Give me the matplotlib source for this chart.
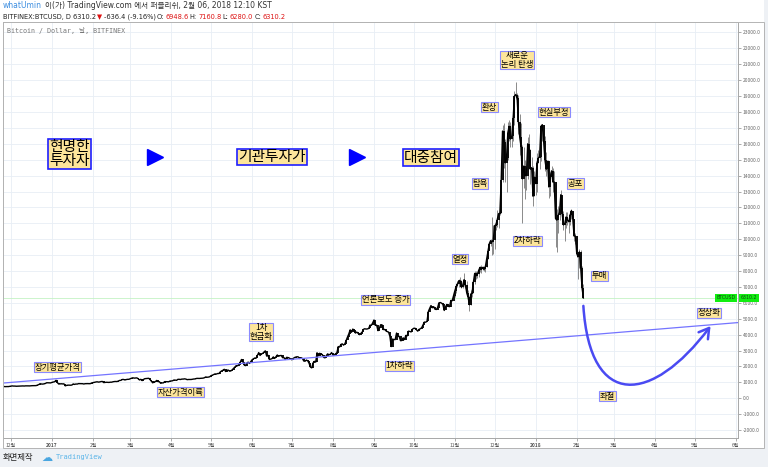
import datetime as dt
import matplotlib
matplotlib.use("Agg")
import matplotlib.pyplot as plt
import matplotlib.dates as mdates
import matplotlib.ticker
from matplotlib.patches import FancyArrowPatch, Rectangle
from matplotlib.path import Path
from matplotlib.transforms import blended_transform_factory

plt.rcParams['font.family'] = ['Noto Sans CJK KR', 'DejaVu Sans']

# DATA : BITFINEX BTCUSD daily closes, 2016-11-25 .. 2018-02-06
start_day = dt.date(2016, 11, 25)
c_1611 = [740, 735, 730, 735, 733, 745]
c_1612 = [755, 775, 765, 765, 755, 760, 765, 768, 770, 774,
          768, 778, 780, 778, 775, 783, 790, 790, 790, 795,
          830, 860, 915, 895, 890, 905, 930, 975, 970, 960, 965]
c_1701 = [1000, 1020, 1040, 1130, 990, 895, 900, 910, 900, 905,
          780, 810, 825, 820, 820, 830, 900, 870, 895, 890,
          920, 920, 920, 915, 895, 915, 920, 920, 915, 920, 965]
c_1702 = [985, 1010, 1020, 1035, 1015, 1025, 1050, 1055, 985, 995,
          1005, 1000, 995, 1010, 1010, 1035, 1050, 1055, 1050, 1080,
          1120, 1125, 1180, 1180, 1150, 1175, 1190, 1190]
c_1703 = [1225, 1260, 1285, 1265, 1275, 1280, 1230, 1150, 1190, 1110,
          1180, 1230, 1240, 1245, 1255, 1170, 1070, 970, 1025, 1045,
          1120, 1050, 1040, 940, 965, 965, 1045, 1045, 1040, 1035, 1080]
c_1704 = [1085, 1100, 1145, 1140, 1125, 1190, 1190, 1180, 1205, 1205,
          1220, 1205, 1170, 1180, 1180, 1180, 1195, 1210, 1215, 1245,
          1250, 1245, 1250, 1250, 1265, 1290, 1340, 1320, 1330, 1350]
c_1705 = [1420, 1450, 1490, 1530, 1520, 1555, 1555, 1660, 1720, 1760,
          1820, 1680, 1760, 1770, 1700, 1720, 1790, 1880, 1970, 2050,
          2040, 2120, 2260, 2440, 2300, 2100, 2050, 2200, 2270, 2190, 2300]
c_1706 = [2420, 2480, 2530, 2520, 2700, 2870, 2690, 2790, 2820, 2910,
          2980, 2650, 2700, 2440, 2460, 2490, 2600, 2500, 2610, 2720,
          2640, 2680, 2690, 2550, 2560, 2440, 2570, 2560, 2530, 2470]
c_1707 = [2420, 2500, 2560, 2590, 2610, 2590, 2500, 2550, 2500, 2340,
          2330, 2400, 2350, 2200, 1960, 1910, 2220, 2320, 2270, 2860,
          2670, 2830, 2750, 2750, 2570, 2540, 2680, 2790, 2730, 2770, 2870]
c_1708 = [2720, 2710, 2800, 2860, 3250, 3220, 3380, 3420, 3340, 3420,
          3640, 3850, 4050, 4300, 4150, 4350, 4270, 4100, 4160, 4080,
          4000, 4070, 4150, 4330, 4370, 4350, 4360, 4390, 4600, 4580, 4740]
c_1709 = [4920, 4580, 4600, 4250, 4390, 4620, 4620, 4320, 4330, 4240,
          4190, 4160, 3890, 3250, 3720, 3690, 3690, 4100, 3900, 3890,
          3620, 3630, 3800, 3690, 3950, 3920, 4220, 4200, 4170, 4340]
c_1710 = [4400, 4400, 4310, 4220, 4330, 4370, 4440, 4610, 4790, 4780,
          4840, 5450, 5650, 5830, 5690, 5760, 5600, 5580, 5700, 6000,
          6020, 5980, 5900, 5520, 5750, 5900, 5780, 5760, 6150, 6130, 6450]
c_1711 = [6750, 7030, 7160, 7390, 7390, 6980, 7120, 7460, 7140, 6620,
          6350, 5880, 6540, 6630, 7290, 7850, 7700, 7790, 8040, 8230,
          8100, 8230, 8100, 8250, 8750, 9290, 9720, 9910, 9830, 9920]
c_1712 = [10850, 10900, 11230, 11600, 11650, 13700, 16800, 16100, 14800, 15100,
          16700, 17100, 16300, 16500, 17600, 19000, 19100, 18900, 17400, 16400,
          15800, 13800, 14600, 14000, 14000, 16000, 15600, 14400, 14500, 12700, 13900]
c_1801 = [13500, 14800, 15100, 15200, 17100, 17200, 16200, 15000, 14400, 14900,
          13300, 13900, 14300, 13600, 13600, 11300, 11200, 11500, 11700, 12800,
          11600, 10900, 11000, 11400, 11200, 11100, 11500, 11800, 11300, 10200, 10200]
c_1802 = [9100, 8900, 9200, 8200, 6950, 6310.2]

# daily high / low from 2017-11-01 on (the volatile part)
wick_start = dt.date(2017, 11, 1)
hi_1711 = [6800, 7220, 7400, 7500, 7600, 7450, 7250, 7880, 7450, 7350,
           6800, 6450, 6800, 6730, 7340, 7980, 8000, 7850, 8100, 8300,
           8400, 8300, 8300, 8320, 8800, 9450, 9750, 10000, 11400, 10900]
lo_1711 = [6370, 6600, 7020, 7000, 7050, 6950, 6940, 7050, 6950, 6500,
           6180, 5500, 5850, 6370, 6630, 7160, 7500, 7550, 7600, 7950,
           7900, 8090, 8010, 7970, 8250, 8760, 9300, 9600, 9000, 9100]
hi_1712 = [11000, 11150, 11850, 11650, 11900, 13900, 17200, 17300, 16300, 15700,
           17400, 17500, 17400, 16950, 17900, 19300, 19900, 19200, 19100, 17900,
           17300, 15900, 15800, 15000, 14500, 16400, 16600, 15700, 15200, 14600, 14300]
lo_1712 = [9400, 10600, 10800, 10700, 11500, 11650, 13600, 14500, 13600, 13000,
           15000, 16200, 15800, 15800, 16200, 17200, 18800, 18100, 16600, 15300,
           14700, 11000, 13200, 12500, 13100, 13800, 14900, 13500, 14000, 12100, 12700]
hi_1801 = [14100, 15400, 15600, 15400, 17200, 17250, 17200, 16500, 15500, 15000,
           14900, 14200, 14600, 14500, 14300, 13600, 11900, 12100, 11900, 13100,
           12800, 11800, 11300, 11700, 11700, 11600, 11700, 11900, 11800, 11300, 10400]
lo_1801 = [12800, 13000, 14800, 14400, 14900, 16200, 16000, 14300, 14000, 13300,
           12600, 12700, 13900, 13000, 13500, 9500, 9200, 10400, 11200, 11700,
           11500, 10600, 9900, 10700, 10900, 10400, 10900, 11300, 11100, 9900, 9700]
hi_1802 = [10200, 9100, 9400, 9300, 8300, 7160.8]
lo_1802 = [8900, 7500, 8200, 8000, 6600, 6280.0]

# long term average line (start, end)
trend_dates = [dt.date(2016, 11, 25), dt.date(2018, 6, 3)]
trend_prices = [955, 4760]

# forecast curve (bezier control points)
curve_dates = [dt.date(2018, 2, 6), dt.date(2018, 2, 11), dt.date(2018, 3, 30), dt.date(2018, 5, 13)]
curve_prices = [5810, -780, -340, 4540]

month_ticks = [dt.date(2016, 12, 1)] + [dt.date(2017, m, 1) for m in range(1, 13)] + \
              [dt.date(2018, m, 1) for m in range(1, 7)]
tick_labels = ["12월", "2017", "2월", "3월", "4월", "5월", "6월", "7월", "8월", "9월",
               "10월", "11월", "12월", "2018", "2월", "3월", "4월", "5월", "6월"]

# annotation boxes: text, date, price, big?
tags = [
    ("현명한\n투자자", dt.date(2017, 1, 14), 15360, True),
    ("기관투자가", dt.date(2017, 6, 16), 15170, True),
    ("대중참여", dt.date(2017, 10, 14), 15110, True),
    ("장기평균가격", dt.date(2017, 1, 5), 1960, False),
    ("자산가격이륙", dt.date(2017, 4, 8), 390, False),
    ("1차\n현금화", dt.date(2017, 6, 8), 4170, False),
    ("언론보도 증가", dt.date(2017, 9, 10), 6180, False),
    ("1차하락", dt.date(2017, 9, 20), 2030, False),
    ("열정", dt.date(2017, 11, 5), 8750, False),
    ("탐욕", dt.date(2017, 11, 20), 13500, False),
    ("환상", dt.date(2017, 11, 27), 18300, False),
    ("새로운\n논리 탄생", dt.date(2017, 12, 18), 21270, False),
    ("현실부정", dt.date(2018, 1, 15), 18000, False),
    ("공포", dt.date(2018, 1, 31), 13500, False),
    ("2차하락", dt.date(2017, 12, 26), 9890, False),
    ("투매", dt.date(2018, 2, 18), 7690, False),
    ("좌절", dt.date(2018, 2, 24), 140, False),
    ("정상화", dt.date(2018, 5, 12), 5370, False),
]
play_dates = [dt.date(2017, 3, 20), dt.date(2017, 8, 19)]
play_prices = [15170, 15170]

last_price = 6310.2

if __name__ == "__main__":
    closes = (c_1611 + c_1612 + c_1701 + c_1702 + c_1703 + c_1704 + c_1705 + c_1706 +
              c_1707 + c_1708 + c_1709 + c_1710 + c_1711 + c_1712 + c_1801 + c_1802)
    days = [start_day + dt.timedelta(days=i) for i in range(len(closes))]
    opens = [closes[0]] + closes[:-1]
    highs = hi_1711 + hi_1712 + hi_1801 + hi_1802
    lows = lo_1711 + lo_1712 + lo_1801 + lo_1802
    wdays = [wick_start + dt.timedelta(days=i) for i in range(len(highs))]

    W, H = 768, 467
    fig = plt.figure(figsize=[7.68, 4.67], dpi=100)
    fig.patch.set_facecolor("white")

    def fx(x): return x / W
    def fy(y): return 1 - y / H

    # grey strips and outer frame
    fig.add_artist(Rectangle((0, 0), 1, fy(448), transform=fig.transFigure, fc="#eef1f5", ec="none", zorder=0))
    fig.add_artist(Rectangle((fx(764), 0), 1, 1, transform=fig.transFigure, fc="#eef1f5", ec="none", zorder=0))
    fig.add_artist(Rectangle((fx(3), fy(448)), fx(761), fy(22) - fy(448), transform=fig.transFigure,
                             fill=False, ec="#b4b4b4", lw=0.7, zorder=1))

    ax = fig.add_axes([fx(3), fy(438), fx(735), fy(22) - fy(438)])
    ax.set_facecolor("white")

    ax.set_xlim(dt.date(2016, 11, 25), dt.datetime(2018, 6, 2, 17))
    ax.set_ylim(-2500, 23660)

    # grid
    ax.set_xticks(month_ticks)
    ax.set_xticklabels(tick_labels)
    ax.yaxis.set_major_locator(matplotlib.ticker.MultipleLocator(1000))
    ax.yaxis.set_major_formatter(matplotlib.ticker.FormatStrFormatter("%.1f"))
    ax.grid(True, color="#e8eef5", lw=0.6)
    ax.set_axisbelow(True)
    ax.yaxis.tick_right()
    ax.tick_params(axis="y", labelsize=3.5, labelcolor="#666666", color="#888888", length=2, width=0.5, pad=1.5)
    ax.tick_params(axis="x", labelsize=3.5, labelcolor="#555555", color="#888888", length=2.5, width=0.5, pad=0.8)
    for lab in ax.get_xticklabels():
        if lab.get_text().startswith("20"):
            lab.set_fontweight("bold")
    for s in ax.spines.values():
        s.set_color("#a8a8a8")
        s.set_linewidth(0.7)

    # price candles
    ax.vlines(wdays, lows, highs, color="#8a8a8a", lw=0.7, zorder=2)
    ax.vlines(days, opens, closes, color="black", lw=1.3, zorder=3)
    ax.plot(days, closes, color="black", lw=1.0, zorder=3)

    # last price line + labels
    ax.axhline(last_price, color="#c4f2c4", lw=0.6, zorder=1)
    trans = blended_transform_factory(ax.transAxes, ax.transData)
    ax.text(0.997, last_price, "BTCUSD", transform=trans, ha="right", va="center", fontsize=3.4,
            family="DejaVu Sans", color="#114411",
            bbox=dict(boxstyle="square,pad=0.35", fc="#11ee11", ec="none"), zorder=6)
    ax.text(1.004, last_price, "6310.2", transform=trans, ha="left", va="center", fontsize=3.4,
            family="DejaVu Sans", color="#114411", clip_on=False,
            bbox=dict(boxstyle="square,pad=0.35", fc="#11ee11", ec="none"), zorder=6)

    # long term average line
    ax.plot(trend_dates, trend_prices, color="#7474ff", lw=0.9, zorder=4)

    # forecast curve
    cx = mdates.date2num(curve_dates)
    verts = list(zip(cx, curve_prices))
    path = Path(verts, [Path.MOVETO, Path.CURVE4, Path.CURVE4, Path.CURVE4])
    arr = FancyArrowPatch(path=path, arrowstyle="->,head_length=0.5,head_width=0.3", mutation_scale=14,
                          color="#4a4af2", lw=1.8, zorder=4)
    ax.add_patch(arr)

    # play arrows
    ax.plot(play_dates, play_prices, ls="none", marker=">", ms=12, color="#0000ff", zorder=5)

    # annotation boxes
    for txt, d, p, big in tags:
        if big:
            ax.text(d, p, txt, ha="center", va="center", fontsize=10.6, linespacing=0.92, zorder=6,
                    bbox=dict(boxstyle="square,pad=0.1", fc="#fde59a", ec="#1f1fff", lw=1.2))
        else:
            ax.text(d, p, txt, ha="center", va="center", fontsize=6.0, linespacing=0.92, zorder=6,
                    bbox=dict(boxstyle="square,pad=0.08", fc="#fde59a", ec="#8a8aff", lw=0.8))

    # header / footer text
    rend = fig.canvas.get_renderer()

    def line(x, y, parts, fs, fam, gap=1.5):
        for t, c in parts:
            tx = fig.text(fx(x), fy(y), t, fontsize=fs, color=c, va="center", family=fam)
            x += tx.get_window_extent(renderer=rend).width + gap

    hfam = ["DejaVu Sans", "Noto Sans CJK KR"]
    line(3, 6, [("whatUmin", "#3d8ee0"),
                ("이(가) TradingView.com 에서 퍼블리쉬, 2월 06, 2018 12:10 KST", "#333333")], 5.5, hfam, gap=3)
    line(3, 17, [("BITFINEX:BTCUSD, D 6310.2", "#222222"), ("▼", "#dd1111"),
                 ("-636.4 (-9.16%)", "#222222"), ("O:", "#222222"), ("6948.6", "#dd1111"),
                 ("H:", "#222222"), ("7160.8", "#dd1111"), ("L:", "#222222"),
                 ("6280.0", "#dd1111"), ("C:", "#222222"), ("6310.2", "#dd1111")], 4.8, hfam, gap=1.2)
    fig.text(fx(7), fy(31), "Bitcoin / Dollar, 날, BITFINEX", fontsize=4.8, color="#777777", va="center",
             family=["DejaVu Sans Mono", "Noto Sans CJK KR"])

    fig.text(fx(3), fy(457.5), "화면제작", fontsize=6, color="#222222", va="center")
    fig.text(fx(41), fy(457.5), "☁", fontsize=8, color="#4aa6e0", va="center", family="DejaVu Sans")
    fig.text(fx(56), fy(457.5), "TradingView", fontsize=5, color="#5ab4e8", va="center", family="DejaVu Sans Mono")

    fig.savefig("out.png", dpi=100)
